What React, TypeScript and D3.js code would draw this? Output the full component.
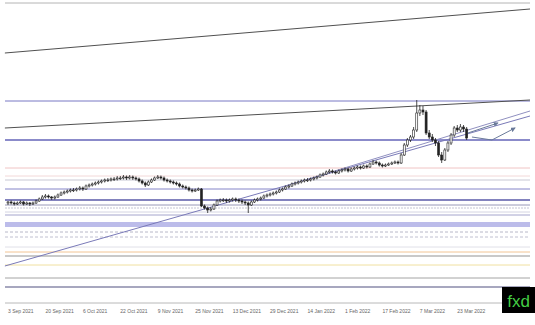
import React from "react";
import * as d3 from "d3";

const W = 535;
const H = 325;

// Daily bars [open, high, low, close], weekdays from 3 Sep 2021
const bars: [number, number, number, number][] = [
  [1720,1724,1716,1722],[1722,1725,1717,1720],[1720,1723,1715,1718],[1718,1723,1716,1720],
  [1720,1725,1718,1722],[1722,1724,1715,1718],[1718,1723,1716,1720],[1720,1722,1714,1718],
  [1718,1723,1716,1720],[1720,1727,1718,1724],[1724,1731,1722,1728],[1728,1736,1726,1732],
  [1732,1738,1729,1734],[1734,1737,1729,1732],[1732,1734,1726,1730],[1730,1735,1727,1732],
  [1732,1739,1730,1736],[1736,1743,1734,1740],[1740,1745,1737,1742],[1742,1747,1739,1744],
  [1744,1749,1741,1746],[1746,1750,1742,1746],[1746,1751,1743,1748],[1748,1754,1745,1750],
  [1750,1753,1744,1748],[1748,1757,1746,1754],[1754,1759,1751,1756],[1756,1761,1753,1758],
  [1758,1763,1755,1760],[1760,1765,1757,1762],[1762,1767,1759,1764],[1764,1769,1761,1766],
  [1766,1770,1762,1766],[1766,1771,1763,1768],[1768,1772,1764,1768],[1768,1774,1765,1770],
  [1770,1774,1766,1770],[1770,1776,1767,1772],[1772,1775,1766,1770],[1770,1776,1767,1772],
  [1772,1775,1766,1770],[1770,1773,1765,1768],[1768,1771,1761,1764],[1764,1767,1757,1760],
  [1760,1763,1752,1756],[1756,1765,1754,1762],[1762,1769,1760,1766],[1766,1773,1764,1770],
  [1770,1776,1768,1772],[1772,1775,1767,1770],[1770,1773,1763,1766],[1766,1769,1761,1764],
  [1764,1767,1759,1762],[1762,1765,1757,1760],[1760,1763,1755,1758],[1758,1761,1751,1754],
  [1754,1757,1749,1752],[1752,1755,1747,1750],[1750,1753,1743,1746],[1746,1749,1741,1744],
  [1744,1749,1742,1746],[1746,1751,1744,1748],[1748,1750,1712,1714],[1714,1717,1707,1710],
  [1710,1713,1700,1706],[1706,1712,1703,1708],[1708,1719,1706,1716],[1716,1727,1714,1724],
  [1724,1729,1721,1726],[1726,1730,1722,1726],[1726,1729,1720,1724],[1724,1729,1721,1726],
  [1726,1731,1723,1728],[1728,1731,1722,1726],[1726,1729,1720,1724],[1724,1727,1718,1722],
  [1722,1725,1716,1720],[1720,1723,1700,1716],[1716,1725,1714,1722],[1722,1729,1720,1726],
  [1726,1731,1723,1728],[1728,1733,1725,1730],[1730,1737,1728,1734],[1734,1739,1731,1736],
  [1736,1741,1733,1738],[1738,1743,1735,1740],[1740,1745,1737,1742],[1742,1749,1740,1746],
  [1746,1751,1743,1748],[1748,1755,1746,1752],[1752,1757,1749,1754],[1754,1761,1752,1758],
  [1758,1763,1755,1760],[1760,1765,1757,1762],[1762,1767,1759,1764],[1764,1769,1761,1766],
  [1766,1770,1762,1766],[1766,1771,1763,1768],[1768,1773,1765,1770],[1770,1775,1767,1772],
  [1772,1779,1770,1776],[1776,1781,1773,1778],[1778,1785,1776,1782],[1782,1788,1779,1784],
  [1784,1787,1779,1782],[1782,1785,1777,1780],[1780,1787,1778,1784],[1784,1789,1781,1786],
  [1786,1791,1783,1788],[1788,1791,1781,1784],[1784,1791,1782,1788],[1788,1793,1785,1790],
  [1790,1795,1787,1792],[1792,1795,1787,1790],[1790,1797,1788,1794],[1794,1797,1789,1792],
  [1792,1801,1790,1798],[1798,1806,1796,1802],[1802,1805,1797,1800],[1800,1803,1793,1796],
  [1796,1799,1791,1794],[1794,1799,1792,1796],[1796,1801,1794,1798],[1798,1803,1796,1800],
  [1800,1805,1798,1802],[1802,1805,1797,1800],[1800,1820,1798,1816],[1816,1840,1814,1836],
  [1836,1850,1832,1846],[1846,1856,1842,1852],[1852,1872,1848,1866],[1866,1926,1862,1900],
  [1900,1916,1894,1906],[1906,1914,1896,1902],[1902,1906,1856,1860],[1860,1866,1848,1852],
  [1852,1858,1842,1846],[1846,1850,1834,1840],[1840,1844,1812,1816],[1816,1822,1800,1806],
  [1806,1830,1804,1826],[1826,1844,1822,1840],[1840,1860,1836,1856],[1856,1874,1852,1870],
  [1870,1876,1862,1866],[1866,1878,1862,1872],[1872,1876,1862,1868],[1868,1872,1846,1850],
];

const tickBars = [0, 12, 24, 36, 48, 60, 72, 84, 96, 108, 120, 132, 144];
const tickLabels = [
  "3 Sep 2021", "20 Sep 2021", "6 Oct 2021", "22 Oct 2021", "9 Nov 2021",
  "25 Nov 2021", "13 Dec 2021", "29 Dec 2021", "14 Jan 2022", "1 Feb 2022",
  "17 Feb 2022", "7 Mar 2022", "23 Mar 2022",
];

// horizontal levels: price, color, width, dash
const levelPrices = [2120, 1924, 1846, 1790, 1774, 1766, 1748, 1726, 1716, 1710, 1702, 1696, 1677, 1662, 1652, 1632, 1622, 1614, 1596, 1570, 1552];
const levelColors = ["#b4b4b4", "#7878c4", "#6464b8", "#f0c4c4", "#f2d8d8", "#c8c8d4", "#8484c8", "#5a5aa8", "#9898b8", "#c4c4d4", "#d4d4e2", "#a4a4cc", "#bcbcea", "#b8b8c8", "#c0c0d0", "#e0e0e8", "#f2c494", "#949494", "#f0e0a0", "#a4a4a4", "#8a8aaa"];
const levelWidths = [1, 1, 1.3, 1, 1, 1, 1, 1.3, 1, 1, 1, 1, 5, 1, 1, 1, 1, 1.2, 1, 1, 1.3];
const levelDash = ["", "", "", "", "", "", "", "", "", "2,1", "", "", "", "3,2", "3,2", "", "", "", "", "", ""];

// trendlines: [bar0, price0, bar1, price1, color, width]
const trendStart = [[-1, 2020], [-1, 1870], [-1, 1594], [88, 1752]];
const trendEnd = [[167.3, 2108], [167.3, 1926], [167.3, 1894], [167.3, 1904]];
const trendColors = ["#505050", "#505050", "#7a7ab8", "#9090c0"];

// arrows (bar, price)
const arrow1 = [[147.4, 1860], [157, 1880]];
const arrow2 = [[148.7, 1852], [155.1, 1846], [162.5, 1870]];

export default function App() {
  const x = d3.scaleLinear().domain([0, 167.3]).range([8, 530]);
  const y = d3.scaleLinear().domain([1520, 2120]).range([303, 3]);
  const line = d3.line<number[]>().x((d) => x(d[0])).y((d) => y(d[1]));
  const bw = 2;
  return (
    <svg width={W} height={H} style={{ position: "absolute", left: 0, top: 0, background: "#fff" }}>
      <defs>
        <marker id="ah" viewBox="0 0 6 6" refX="5" refY="3" markerWidth="5" markerHeight="5" orient="auto">
          <path d="M0,0 L6,3 L0,6 Z" fill="#6a7a9a" />
        </marker>
      </defs>
      {levelPrices.map((p, i) => (
        <line key={"l" + i} x1={5} x2={530} y1={y(p)} y2={y(p)} stroke={levelColors[i]} strokeWidth={levelWidths[i]} strokeDasharray={levelDash[i] || undefined} />
      ))}
      {trendStart.map((s, i) => (
        <path key={"t" + i} d={line([s, trendEnd[i]]) || ""} stroke={trendColors[i]} strokeWidth={1} fill="none" />
      ))}
      {bars.map((b, i) => {
        const [o, h, l, c] = b;
        const cx = x(i);
        const top = y(Math.max(o, c));
        const bot = y(Math.min(o, c));
        const bull = c >= o;
        return (
          <g key={"b" + i}>
            <line x1={cx} x2={cx} y1={y(h)} y2={y(l)} stroke="#222" strokeWidth={0.8} />
            <rect x={cx - bw / 2} y={top} width={bw} height={Math.max(0.8, bot - top)} fill={bull ? "#fff" : "#222"} stroke="#222" strokeWidth={0.6} />
          </g>
        );
      })}
      <path d={line(arrow1) || ""} stroke="#6a7a9a" strokeWidth={1} fill="none" markerEnd="url(#ah)" />
      <path d={line(arrow2) || ""} stroke="#6a7a9a" strokeWidth={1} fill="none" markerEnd="url(#ah)" />
      <line x1={5} x2={530} y1={303} y2={303} stroke="#b8b8b8" strokeWidth={1} />
      {tickBars.map((t, i) => (
        <text key={"x" + i} x={x(t)} y={313} fontSize={5} fill="#666" fontFamily="Liberation Sans, Arial, sans-serif">
          {tickLabels[i]}
        </text>
      ))}
      <rect x={502} y={287} width={33} height={26} fill="#000" />
      <text x={518.5} y={307} textAnchor="middle" fontSize={17} fill="#44cc44" fontFamily="Liberation Sans, Arial, sans-serif">fxd</text>
    </svg>
  );
}
